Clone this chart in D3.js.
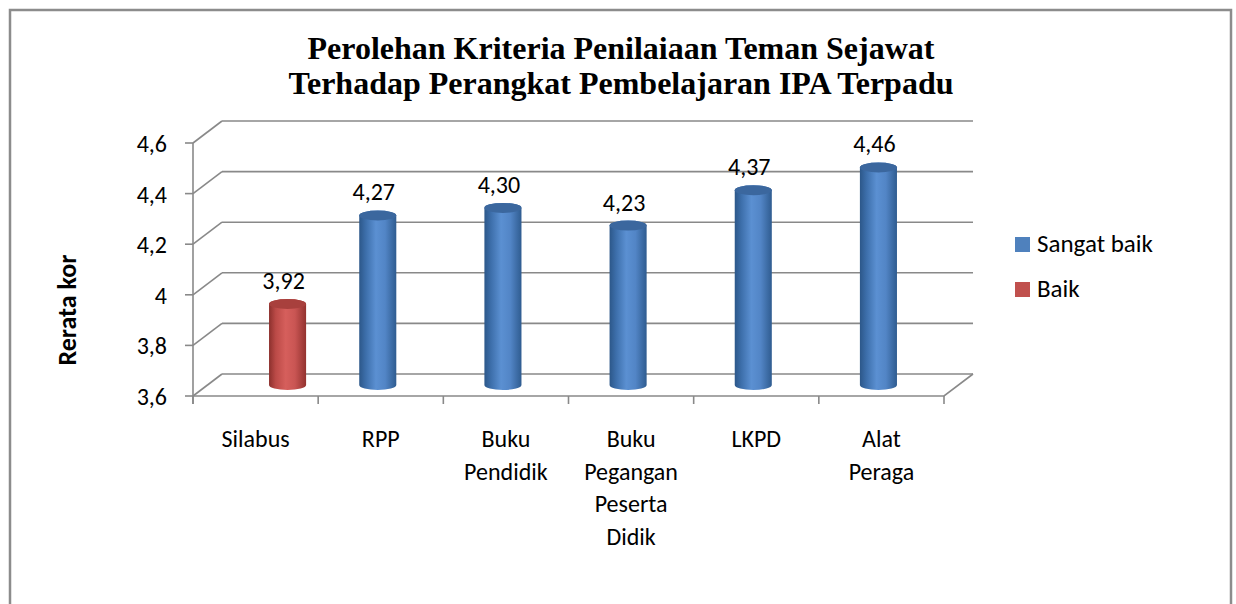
<!DOCTYPE html>
<html>
<head>
<meta charset="utf-8">
<script src="https://cdn.jsdelivr.net/npm/d3@7"></script>
<style>
  html, body { margin: 0; padding: 0; background: #fff; }
  text { font-family: Carlito, Calibri, Lato, sans-serif; fill: #000; }
</style>
</head>
<body>
<svg id="chart" width="1236" height="604"></svg>
<script>
/* chart data */
var categories = ['Silabus', 'RPP', 'Buku Pendidik', 'Buku Pegangan Peserta Didik', 'LKPD', 'Alat Peraga'];
var categoryLines = [['Silabus'], ['RPP'], ['Buku', 'Pendidik'], ['Buku', 'Pegangan', 'Peserta', 'Didik'], ['LKPD'], ['Alat', 'Peraga']];
var seriesNames = ['Sangat baik', 'Baik'];
var sangatBaik = [null, 4.27, 4.30, 4.23, 4.37, 4.46];
var baik = [3.92, null, null, null, null, null];
var yTicks = [3.6, 3.8, 4.0, 4.2, 4.4, 4.6];
var titleLines = ['Perolehan Kriteria Penilaiaan Teman Sejawat', 'Terhadap Perangkat Pembelajaran IPA Terpadu'];

var svg = d3.select('#chart');
var fmt = function(v, d) { return d3.format('.' + d + 'f')(v).replace('.', ','); };

var gridColor = '#898989',
    DX = 29, DY = -22;   // depth of the 3d box

var y = d3.scaleLinear().domain([3.6, 4.6]).range([396, 143]);
var x0 = d3.scaleBand().domain(categories).range([193, 944]);
var x1 = d3.scaleBand().domain(seriesNames).range([0, x0.bandwidth()]).paddingOuter(0.79);

// outer frame
svg.append('rect')
  .attr('x', 10).attr('y', 10).attr('width', 1221).attr('height', 620)
  .attr('fill', 'none').attr('stroke', '#8c8c8c').attr('stroke-width', 2.5);

// title
svg.append('g').selectAll('text').data(titleLines).enter().append('text')
  .attr('x', 621).attr('y', function(d, i) { return 59 + i * 35; })
  .attr('text-anchor', 'middle')
  .style('font-family', '"Liberation Serif", "Times New Roman", serif')
  .style('font-weight', 'bold').style('font-size', '32px')
  .text(function(d) { return d; });

// walls: back gridlines, side wall diagonals, floor
var grid = svg.append('g')
  .attr('stroke', gridColor).attr('stroke-width', 1.6).attr('fill', 'none');
var xl = x0.range()[0], xr = x0.range()[1];

grid.selectAll('.back').data(yTicks).enter().append('line')
  .attr('x1', xl + DX).attr('x2', xr + DX)
  .attr('y1', function(d) { return y(d) + DY; })
  .attr('y2', function(d) { return y(d) + DY; });

grid.selectAll('.side').data(yTicks).enter().append('line')
  .attr('x1', xl).attr('x2', xl + DX)
  .attr('y1', function(d) { return y(d); })
  .attr('y2', function(d) { return y(d) + DY; });

// floor front + right edge
grid.append('path')
  .attr('d', 'M' + xl + ',' + y(3.6) + 'L' + xr + ',' + y(3.6) + 'L' + (xr + DX) + ',' + (y(3.6) + DY));

// y axis
grid.append('line').attr('x1', xl).attr('x2', xl).attr('y1', y(4.6)).attr('y2', y(3.6) + 8);
grid.selectAll('.ytick').data(yTicks).enter().append('line')
  .attr('x1', xl - 8).attr('x2', xl)
  .attr('y1', function(d) { return y(d); }).attr('y2', function(d) { return y(d); });

// x ticks
var bounds = categories.map(function(c) { return x0(c); }).concat([xr]);
grid.selectAll('.xtick').data(bounds).enter().append('line')
  .attr('x1', function(d) { return d; }).attr('x2', function(d) { return d; })
  .attr('y1', y(3.6)).attr('y2', y(3.6) + 8);

svg.append('g').selectAll('text').data(yTicks).enter().append('text')
  .attr('x', xl - 26).attr('y', function(d) { return y(d) + 9; })
  .attr('text-anchor', 'end').style('font-size', '24px')
  .text(function(d) { return d === 4 ? '4' : fmt(d, 1); });

svg.append('text')
  .attr('transform', 'translate(76,310) rotate(-90)')
  .attr('text-anchor', 'middle')
  .style('font-size', '26px').style('font-weight', 'bold')
  .text('Rerata kor');

// category labels
var catG = svg.append('g').selectAll('g').data(categories).enter().append('text')
  .attr('text-anchor', 'middle').style('font-size', '24px')
  .attr('transform', function(d) { return 'translate(' + (x0(d) + x0.bandwidth() / 2) + ',447)'; });
catG.selectAll('tspan').data(function(d, i) { return categoryLines[i]; }).enter().append('tspan')
  .attr('x', 0).attr('y', function(d, i) { return i * 32.7; })
  .text(function(d) { return d; });

// cylinder gradients
var defs = svg.append('defs');
var palettes = {
  'Sangat baik': { stops: ['#2c5789', '#3d6fab', '#5b90d2', '#5285c6', '#2f5c90'], top: '#3b679e', key: '#4f81bd' },
  'Baik': { stops: ['#8c302d', '#bb4a47', '#d65f5c', '#c95553', '#93322f'], top: '#a8403d', key: '#c0504d' }
};
seriesNames.forEach(function(s, i) {
  var g = defs.append('linearGradient').attr('id', 'cyl' + i)
    .attr('x1', '0%').attr('x2', '100%').attr('y1', '0%').attr('y2', '0%');
  [0, 0.18, 0.45, 0.7, 1].forEach(function(o, k) {
    g.append('stop').attr('offset', o).attr('stop-color', palettes[s].stops[k]);
  });
});

// bars
var bars = [];
categories.forEach(function(c, i) {
  if (sangatBaik[i] != null) bars.push({ cat: c, series: 'Sangat baik', s: 0, value: sangatBaik[i] });
  if (baik[i] != null) bars.push({ cat: c, series: 'Baik', s: 1, value: baik[i] });
});

var bw = x1.step() * 1.06, rx = bw / 2, ry = 5;
var barG = svg.append('g').selectAll('g').data(bars).enter().append('g');

barG.append('path')
  .attr('fill', function(d) { return 'url(#cyl' + d.s + ')'; })
  .attr('d', function(d) {
    var cx = x0(d.cat) + x1(d.series) + x1.bandwidth() / 2 + DX / 2,
        yt = y(d.value) + DY / 2,
        yb = y(3.6) + DY / 2;
    return 'M' + (cx - rx) + ',' + yt + 'L' + (cx - rx) + ',' + yb +
      'A' + rx + ',' + ry + ' 0 0 0 ' + (cx + rx) + ',' + yb +
      'L' + (cx + rx) + ',' + yt +
      'A' + rx + ',' + ry + ' 0 0 0 ' + (cx - rx) + ',' + yt + 'Z';
  });

barG.append('ellipse')
  .attr('cx', function(d) { return x0(d.cat) + x1(d.series) + x1.bandwidth() / 2 + DX / 2; })
  .attr('cy', function(d) { return y(d.value) + DY / 2; })
  .attr('rx', rx).attr('ry', ry)
  .attr('fill', function(d) { return palettes[d.series].top; });

barG.append('text')
  .attr('x', function(d) { return x0(d.cat) + x1(d.series) + x1.bandwidth() / 2 + DX / 2 - 4; })
  .attr('y', function(d) { return y(d.value) + DY / 2 - 15; })
  .attr('text-anchor', 'middle').style('font-size', '24px')
  .text(function(d) { return fmt(d.value, 2); });

// legend
var leg = svg.append('g').selectAll('g').data(seriesNames).enter().append('g')
  .attr('transform', function(d, i) { return 'translate(1015,' + (237 + i * 45) + ')'; });
leg.append('rect').attr('width', 15).attr('height', 15)
  .attr('fill', function(d) { return palettes[d].key; });
leg.append('text').attr('x', 22).attr('y', 15).style('font-size', '25px')
  .text(function(d) { return d; });
</script>
</body>
</html>
